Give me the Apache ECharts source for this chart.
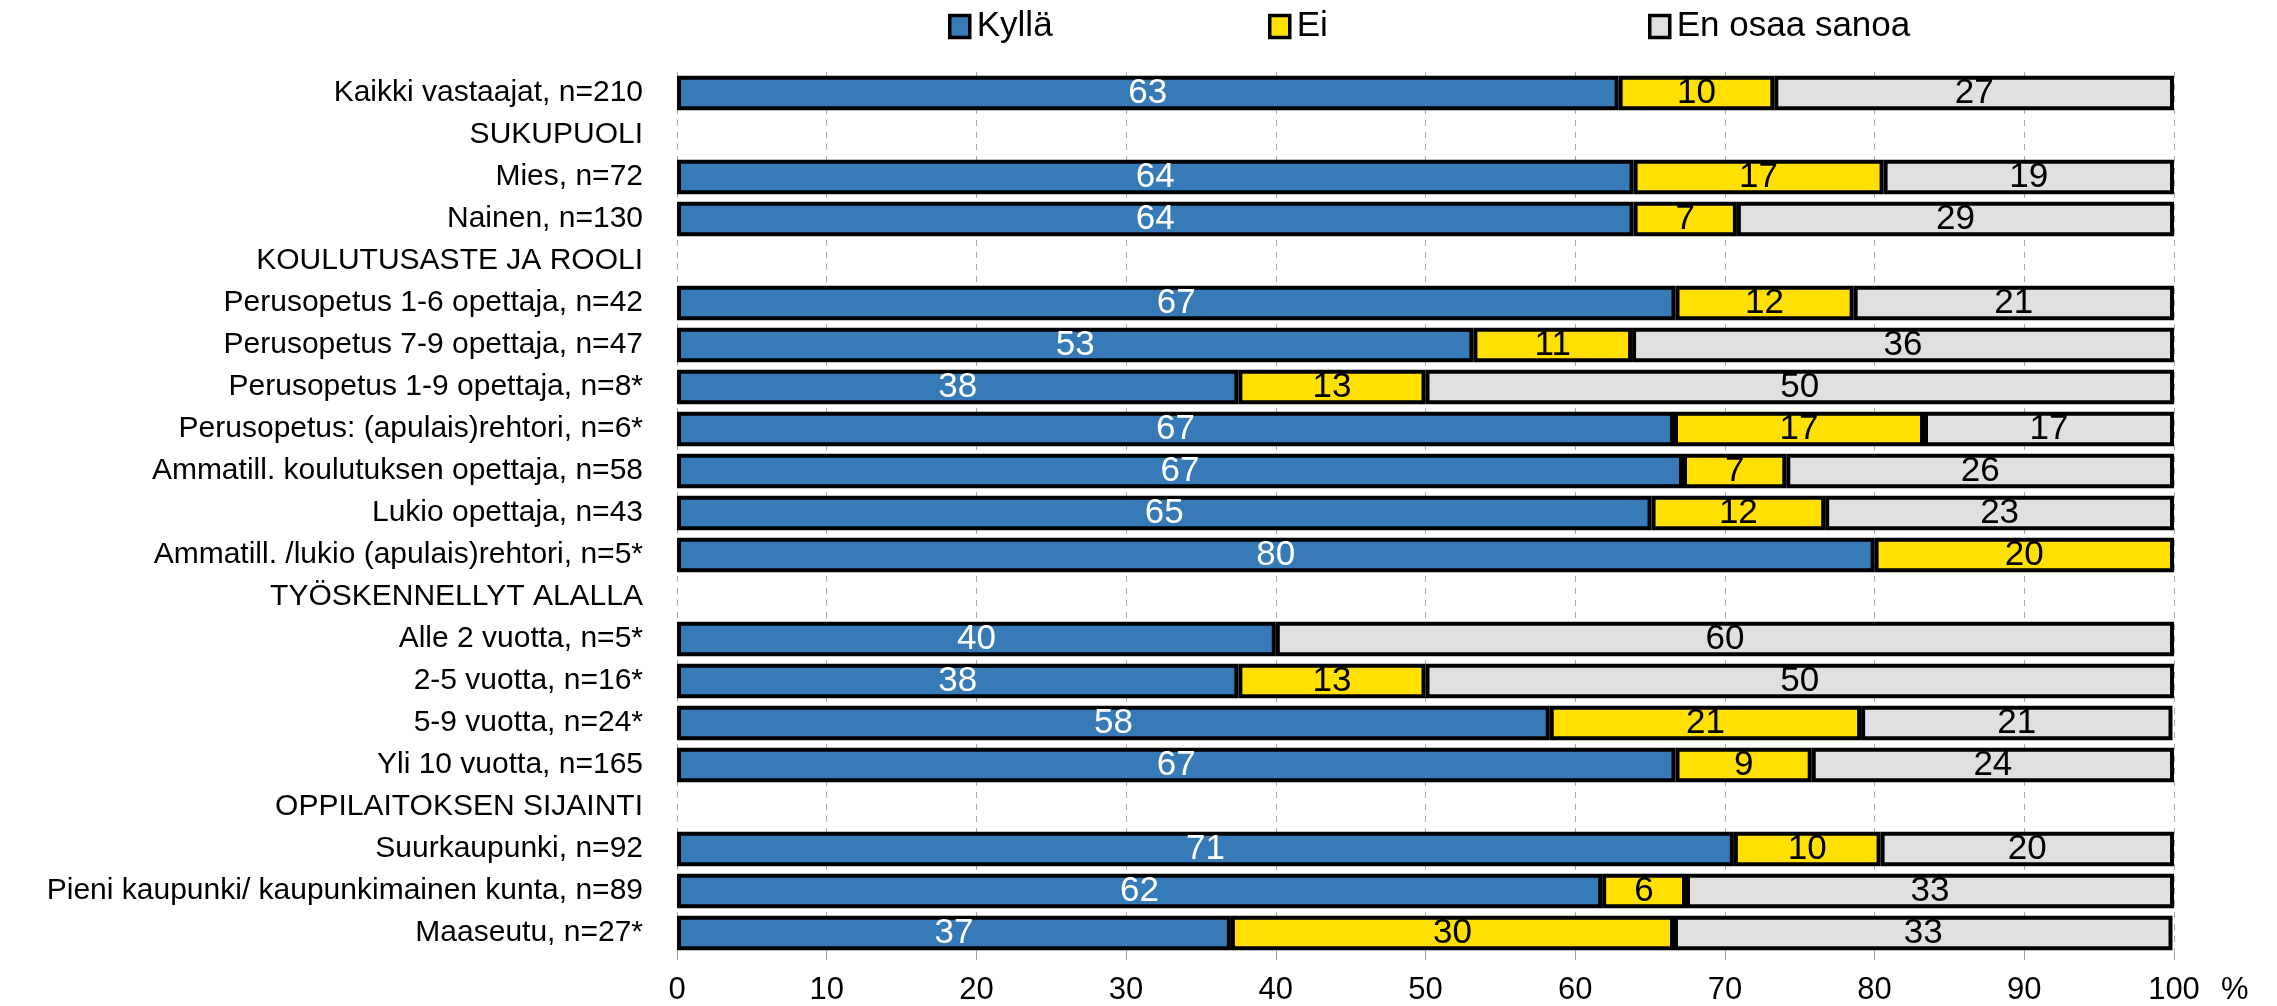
<!DOCTYPE html>
<html><head><meta charset="utf-8">
<script src="https://cdn.jsdelivr.net/npm/echarts@6/dist/echarts.min.js"></script>
<style>html,body{margin:0;padding:0;background:#fff}#c{width:2277px;height:1006px}</style>
</head><body><div id="c"></div>
<script>
const categories = [
  'Kaikki vastaajat, n=210','SUKUPUOLI','Mies, n=72','Nainen, n=130',
  'KOULUTUSASTE JA ROOLI','Perusopetus 1-6 opettaja, n=42','Perusopetus 7-9 opettaja, n=47',
  'Perusopetus 1-9 opettaja, n=8*','Perusopetus: (apulais)rehtori, n=6*',
  'Ammatill. koulutuksen opettaja, n=58','Lukio opettaja, n=43',
  'Ammatill. /lukio (apulais)rehtori, n=5*','TYÖSKENNELLYT ALALLA',
  'Alle 2 vuotta, n=5*','2-5 vuotta, n=16*','5-9 vuotta, n=24*','Yli 10 vuotta, n=165',
  'OPPILAITOKSEN SIJAINTI','Suurkaupunki, n=92','Pieni kaupunki/ kaupunkimainen kunta, n=89',
  'Maaseutu, n=27*'
];
const kylla = [62.9,null,63.9,63.9,null,66.7,53.2,37.5,66.6,67.2,65.1,80,null,40,37.5,58.3,66.7,null,70.6,61.8,37.0];
const ei    = [10.4,null,16.7,6.9,null,11.9,10.6,12.5,16.7,6.9,11.6,20,null,null,12.5,20.8,9.1,null,9.8,5.6,29.6];
const eos   = [26.7,null,19.4,29.2,null,21.4,36.2,50,16.7,25.9,23.3,null,null,60,50,20.8,24.2,null,19.6,32.6,33.3];
const xTicks = [0,10,20,30,40,50,60,70,80,90,100];

const FONT = 'Liberation Sans, Arial, sans-serif';
const chart = echarts.init(document.getElementById('c'));
function ser(name, data, color, labelColor){
  return {
    name, type:'bar', stack:'a', data, barWidth:'82%',
    itemStyle:{color, borderColor:'#000', borderWidth:4},
    label:{show:true, position:'inside', color:labelColor, fontSize:35, fontFamily:FONT,
      formatter:p=> (p.value==null||p.value===0)?'':Math.round(p.value).toString()}
  };
}
function leg(left, name){
  return {left, top:4, data:[name], icon:'rect', itemWidth:20, itemHeight:22, itemGap:0,
    itemStyle:{borderWidth:3.5, borderColor:'#000'},
    textStyle:{fontSize:35, fontFamily:FONT, color:'#000', padding:[0,0,0,2]}};
}
chart.setOption({
  animation:false,
  legend:[leg(943,'Kyllä'), leg(1263,'Ei'), leg(1643,'En osaa sanoa')],
  grid:{left:677, right:103, top:72, bottom:51},
  xAxis:{type:'value', min:0, max:100, interval:10,
    axisLine:{show:false},
    axisTick:{show:true, length:6, lineStyle:{color:'#999'}},
    axisLabel:{fontSize:31, fontFamily:FONT, color:'#000', margin:21,
      formatter:v=> xTicks.indexOf(v)>=0 ? String(v) : ''},
    splitLine:{show:true, lineStyle:{type:[6,6], color:'#aaa', width:1}}
  },
  yAxis:{type:'category', data:categories, inverse:true,
    axisLine:{show:false}, axisTick:{show:false},
    axisLabel:{fontSize:30, fontFamily:FONT, color:'#000', margin:34}
  },
  graphic:[{type:'text', left:2221, top:975, style:{text:'%', fontSize:31, fontFamily:FONT, fill:'#000'}}],
  series:[
    ser('Kyllä', kylla, '#377AB8', '#fff'),
    ser('Ei', ei, '#FFE000', '#000'),
    ser('En osaa sanoa', eos, '#E0E0E0', '#000')
  ]
});
</script></body></html>
